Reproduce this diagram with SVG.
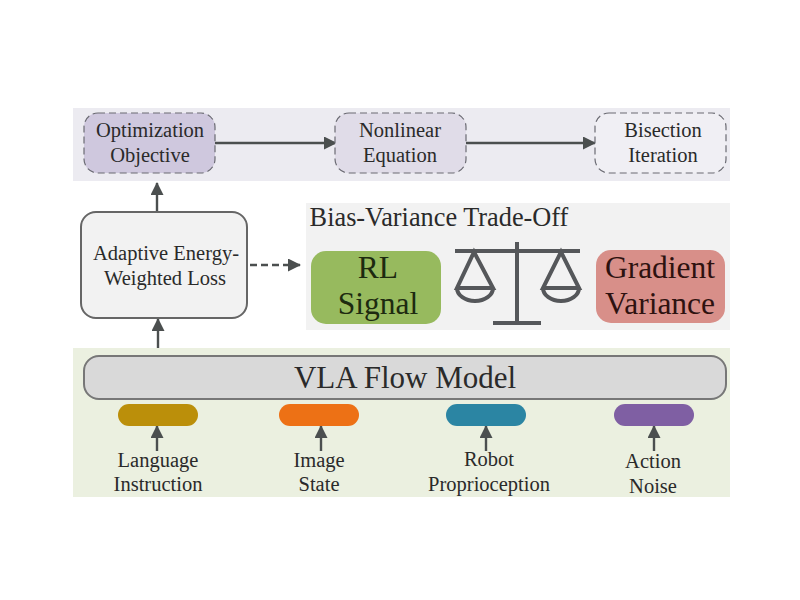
<svg xmlns="http://www.w3.org/2000/svg" width="800" height="600" viewBox="0 0 800 600">
<style>
text{font-family:"Liberation Serif","Times New Roman",serif;text-anchor:middle;fill:#2a2a2a}
.t19{font-size:20.5px}
.t18{font-size:20.5px}
.t30{font-size:31.5px}
.conn{stroke:#4b4f4f;stroke-width:2.4;fill:none}
.dash{stroke:#6a6a72;stroke-width:1.2;stroke-dasharray:7 4}
.bal{stroke:#55575a;stroke-width:4;fill:none}
</style>
<defs>
<marker id="arr" markerUnits="userSpaceOnUse" markerWidth="14" markerHeight="14" refX="12" refY="6.5" orient="auto"><path d="M0 0L13 6.5L0 13Z" fill="#4b4f4f"/></marker>
</defs>
<rect width="800" height="600" fill="#fff"/>
<rect id="panel-top" x="73" y="108" width="657" height="73" fill="#ecebf1"/>
<rect id="panel-mid" x="306" y="203" width="424" height="127" fill="#f2f2f2"/>
<rect id="panel-bottom" x="73" y="348" width="657" height="149" fill="#ebf0e0"/>

<g id="connectors">
<path class="conn" d="M215 143H336" marker-end="url(#arr)"/>
<path class="conn" d="M466 143H595" marker-end="url(#arr)"/>
<path class="conn" d="M157 212V183" marker-end="url(#arr)"/>
<path class="conn" d="M158 348V319" marker-end="url(#arr)"/>
<path class="conn" d="M250 265H300" stroke-dasharray="7 4" marker-end="url(#arr)"/>
<path class="conn" d="M157 451V426" marker-end="url(#arr)"/>
<path class="conn" d="M321 451V426" marker-end="url(#arr)"/>
<path class="conn" d="M486 451V426" marker-end="url(#arr)"/>
<path class="conn" d="M654 451V426" marker-end="url(#arr)"/>
</g>

<g id="optimization-objective"><rect class="dash" x="84" y="113" width="131" height="60" rx="14" fill="#cfc8de"/>
<text class="t19" x="150" y="137">Optimization</text><text class="t19" x="150" y="162">Objective</text></g>
<g id="nonlinear-equation"><rect class="dash" x="335" y="113" width="131" height="60" rx="14" fill="#e0dce8"/>
<text class="t19" x="400" y="137">Nonlinear</text><text class="t19" x="400" y="162">Equation</text></g>
<g id="bisection-iteration"><rect class="dash" x="595" y="113" width="131" height="60" rx="14" fill="#f0eff4"/>
<text class="t19" x="663" y="137">Bisection</text><text class="t19" x="663" y="162">Iteration</text></g>

<g id="adaptive-loss"><rect x="81" y="212" width="166" height="106" rx="15" fill="#f2f2f2" stroke="#666" stroke-width="2"/>
<text class="t18" x="166" y="260">Adaptive Energy-</text><text class="t18" x="165" y="285">Weighted Loss</text></g>

<g id="trade-off"><text x="439" y="226" style="font-size:26.3px">Bias-Variance Trade-Off</text></g>
<g id="rl-signal"><rect x="311" y="251" width="130" height="73" rx="15" fill="#97ba5e"/>
<text class="t30" x="378" y="278" style="fill:#1d2a10">RL</text><text class="t30" x="378" y="314" style="fill:#1d2a10">Signal</text></g>
<g id="gradient-variance"><rect x="596" y="250" width="129" height="73" rx="15" fill="#d88f89"/>
<text class="t30" x="660" y="278" style="fill:#2e1210">Gradient</text><text class="t30" x="660" y="314" style="fill:#2e1210">Variance</text></g>
<g id="balance">
<path class="bal" d="M517 242V324M455 251H580M493 323H541"/>
<path class="bal" d="M474 252L457 288H493ZM457 288A18 13 0 0 0 493 288"/>
<path class="bal" d="M561 252L543 288H579ZM543 288A18 13 0 0 0 579 288"/>
</g>

<g id="vla-flow-model"><rect x="84" y="356" width="642" height="43" rx="15" fill="#d9d9d9" stroke="#777" stroke-width="2"/>
<text x="405" y="388" style="font-size:31px">VLA Flow Model</text></g>

<g id="input-language"><rect x="118" y="404" width="80" height="22" rx="11" fill="#bb8f0a"/>
<text class="t19" x="158" y="467">Language</text><text class="t19" x="158" y="491">Instruction</text></g>
<g id="input-image"><rect x="279" y="404" width="80" height="22" rx="11" fill="#ed7115"/>
<text class="t19" x="319" y="467">Image</text><text class="t19" x="319" y="491">State</text></g>
<g id="input-robot"><rect x="446" y="404" width="80" height="22" rx="11" fill="#2b85a3"/>
<text class="t19" x="489" y="466">Robot</text><text class="t19" x="489" y="491">Proprioception</text></g>
<g id="input-action"><rect x="614" y="404" width="80" height="22" rx="11" fill="#7f5fa3"/>
<text class="t19" x="653" y="468">Action</text><text class="t19" x="653" y="493">Noise</text></g>
</svg>
